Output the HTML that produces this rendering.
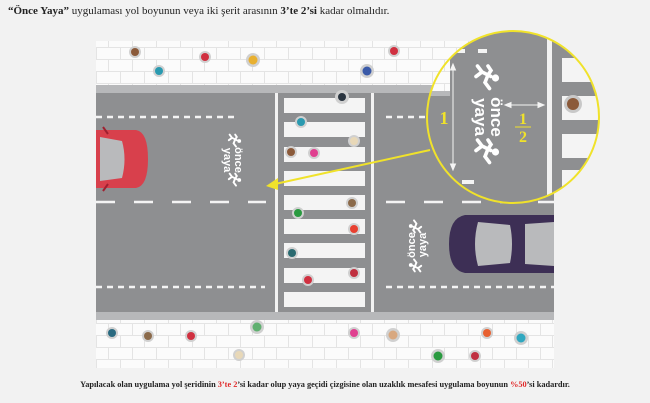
<!DOCTYPE html>
<html><head><meta charset="utf-8"><style>
html,body{margin:0;padding:0;background:#f2f2f2;}
body{width:650px;height:403px;overflow:hidden;position:relative;font-family:"Liberation Serif",serif;}
.t{position:absolute;left:8px;top:5px;font-size:11px;color:#222;white-space:nowrap;}
.b{position:absolute;left:0;width:650px;top:380px;text-align:center;font-size:8.3px;font-weight:bold;color:#222;white-space:nowrap;}
.r{color:#e02a2a;}
svg{position:absolute;left:0;top:0;}
</style></head><body>
<div class="t"><b>“Önce Yaya”</b> uygulaması yol boyunun veya iki şerit arasının <b>3’te 2’si</b> kadar olmalıdır.</div>
<svg width="650" height="403" viewBox="0 0 650 403" xmlns="http://www.w3.org/2000/svg">
<defs>
<pattern id="brick" width="24" height="24" patternUnits="userSpaceOnUse">
<rect width="24" height="24" fill="#fbfbfb"/>
<path d="M0 11.5H24M0 23.5H24M0.5 0V12M12.5 12V24" stroke="#e4e4e4" stroke-width="1" fill="none"/>
</pattern>
<clipPath id="cc"><circle cx="513" cy="117" r="86"/></clipPath>
<g id="ped">
<circle cx="0" cy="-9" r="2.4" fill="#fff"/>
<path d="M-1,-6 L-4,0 L-8,3 M-4,0 L-1,4 M-2,-4 L3,-2 L7,-5 M-2,-4 L-5,-6 L-8,-4" stroke="#fff" stroke-width="2.4" fill="none" stroke-linecap="round"/>
</g>
</defs>
<rect x="96" y="41" width="458" height="44" fill="url(#brick)"/>
<rect x="96" y="320" width="458" height="48" fill="url(#brick)"/>
<rect x="96" y="85" width="458" height="8" fill="#b7b8ba"/>
<rect x="96" y="312" width="458" height="8" fill="#b7b8ba"/>
<rect x="96" y="93" width="458" height="219" fill="#8e8f91"/>
<rect x="275" y="93" width="3" height="219" fill="#f2f2f2"/>
<rect x="371" y="93" width="3" height="219" fill="#f2f2f2"/>
<g fill="#f4f4f4">
<rect x="284" y="98" width="81" height="15"/><rect x="284" y="122" width="81" height="15"/>
<rect x="284" y="147" width="81" height="15"/><rect x="284" y="171" width="81" height="15"/>
<rect x="284" y="195" width="81" height="15"/><rect x="284" y="219" width="81" height="15"/>
<rect x="284" y="243" width="81" height="15"/><rect x="284" y="268" width="81" height="15"/>
<rect x="284" y="292" width="81" height="15"/>
</g>
<g stroke="#f4f4f4" stroke-width="2.5">
<line x1="96" y1="117" x2="236" y2="117" stroke-dasharray="6 5"/>
<line x1="96" y1="287" x2="265" y2="287" stroke-dasharray="6 5"/>
<line x1="96" y1="202" x2="266" y2="202" stroke-dasharray="19 19"/>
<line x1="386" y1="117" x2="430" y2="117" stroke-dasharray="6 5"/>
<line x1="386" y1="287" x2="554" y2="287" stroke-dasharray="6 5"/>
<line x1="386" y1="202" x2="554" y2="202" stroke-dasharray="19 19"/>
</g>
<path d="M96 130 L136 130 Q148 132 148 159 Q148 186 136 188 L96 188Z" fill="#d8404c"/>
<path d="M100 137 L122 141 Q127 159 122 178 L100 181Z" fill="#b9babc"/>
<path d="M103 127 L108 134 M103 191 L108 184" stroke="#a02030" stroke-width="2"/>
<path d="M554 215 L465 215 Q449 218 449 244 Q449 270 465 273 L554 273Z" fill="#3d2f55"/>
<path d="M478 222 L510 225 Q514 244 510 263 L478 266 Q472 244 478 222Z" fill="#b9babc"/>
<path d="M525 224 L554 222 L554 266 L525 264Z" fill="#b9babc"/>
<g transform="translate(232,160) rotate(90)" font-family="Liberation Sans,sans-serif" font-weight="bold" fill="#fff">
<text x="0" y="-3" font-size="11" text-anchor="middle">önce</text>
<text x="0" y="8" font-size="11" text-anchor="middle">yaya</text>
</g>
<use href="#ped" transform="translate(232,141) rotate(90) scale(0.8)"/>
<use href="#ped" transform="translate(232,180) rotate(90) scale(0.8)"/>
<g transform="translate(418,245) rotate(-90)" font-family="Liberation Sans,sans-serif" font-weight="bold" fill="#fff">
<text x="0" y="-3" font-size="11" text-anchor="middle">önce</text>
<text x="0" y="8" font-size="11" text-anchor="middle">yaya</text>
</g>
<use href="#ped" transform="translate(418,226) rotate(-90) scale(0.8)"/>
<use href="#ped" transform="translate(418,265) rotate(-90) scale(0.8)"/>
<g>
<g fill="#d0d0d0">
<circle cx="135" cy="52" r="6"/><circle cx="159" cy="71" r="6"/><circle cx="205" cy="57" r="6"/><circle cx="253" cy="60" r="7"/><circle cx="367" cy="71" r="7"/><circle cx="394" cy="51" r="6"/><circle cx="342" cy="97" r="7"/>
<circle cx="301" cy="122" r="6"/><circle cx="354" cy="141" r="6"/><circle cx="291" cy="152" r="6"/><circle cx="314" cy="153" r="6"/><circle cx="298" cy="213" r="6"/><circle cx="352" cy="203" r="6"/><circle cx="354" cy="229" r="6"/><circle cx="292" cy="253" r="6"/><circle cx="308" cy="280" r="6"/><circle cx="354" cy="273" r="6"/>
<circle cx="112" cy="333" r="6"/><circle cx="148" cy="336" r="6"/><circle cx="191" cy="336" r="6"/><circle cx="257" cy="327" r="7"/><circle cx="239" cy="355" r="6"/><circle cx="354" cy="333" r="6"/><circle cx="393" cy="335" r="7"/><circle cx="438" cy="356" r="7"/><circle cx="475" cy="356" r="6"/><circle cx="487" cy="333" r="6"/><circle cx="521" cy="338" r="7"/>
</g>
<circle cx="135" cy="52" r="4" fill="#8b5a3a"/><circle cx="159" cy="71" r="4" fill="#2a9ab0"/><circle cx="205" cy="57" r="4" fill="#d03040"/><circle cx="253" cy="60" r="4.5" fill="#e8b030"/><circle cx="367" cy="71" r="4.5" fill="#3a5aa8"/><circle cx="394" cy="51" r="4" fill="#d03040"/><circle cx="342" cy="97" r="4" fill="#2a3540"/>
<circle cx="301" cy="122" r="4" fill="#2a9ab0"/><circle cx="354" cy="141" r="4" fill="#e8d8b8"/><circle cx="291" cy="152" r="4" fill="#8b5a3a"/><circle cx="314" cy="153" r="4" fill="#e04090"/><circle cx="298" cy="213" r="4" fill="#2a9a40"/><circle cx="352" cy="203" r="4" fill="#8b6a4a"/><circle cx="354" cy="229" r="4" fill="#e84030"/><circle cx="292" cy="253" r="4" fill="#2a6a70"/><circle cx="308" cy="280" r="4" fill="#d03040"/><circle cx="354" cy="273" r="4" fill="#c03040"/>
<circle cx="112" cy="333" r="4" fill="#2a6a80"/><circle cx="148" cy="336" r="4" fill="#8b6a4a"/><circle cx="191" cy="336" r="4" fill="#d03040"/><circle cx="257" cy="327" r="4.5" fill="#60b070"/><circle cx="239" cy="355" r="4" fill="#e8d8b8"/><circle cx="354" cy="333" r="4" fill="#e04090"/><circle cx="393" cy="335" r="4.5" fill="#d8a880"/><circle cx="438" cy="356" r="4.5" fill="#2a9a40"/><circle cx="475" cy="356" r="4" fill="#c03040"/><circle cx="487" cy="333" r="4" fill="#e86030"/><circle cx="521" cy="338" r="4.5" fill="#30a8c0"/>
</g>
<line x1="430" y1="150" x2="275" y2="184" stroke="#f0e22a" stroke-width="2"/>
<path d="M266 186 L278 178 L278 190Z" fill="#f0e22a"/>
<g clip-path="url(#cc)">
<rect x="420" y="25" width="190" height="190" fill="#8e8f91"/>
<rect x="420" y="25" width="30" height="66" fill="url(#brick)"/>
<rect x="420" y="91" width="30" height="5" fill="#b7b8ba"/>
<rect x="547" y="25" width="5" height="190" fill="#f2f2f2"/>
<rect x="562" y="58" width="40" height="24" fill="#f4f4f4"/>
<rect x="562" y="96" width="40" height="24" fill="#f4f4f4"/>
<rect x="562" y="134" width="40" height="24" fill="#f4f4f4"/>
<rect x="562" y="170" width="40" height="24" fill="#f4f4f4"/>
<rect x="457" y="49" width="8" height="4" fill="#f4f4f4"/>
<rect x="478" y="49" width="9" height="4" fill="#f4f4f4"/>
<rect x="462" y="180" width="12" height="4" fill="#f4f4f4"/>
<circle cx="573" cy="104" r="9" fill="#c8c8c8"/><circle cx="573" cy="104" r="6" fill="#8b5a3a"/>
<circle cx="428" cy="62" r="6" fill="#d0d0d0"/><circle cx="428" cy="62" r="4" fill="#8b5a3a"/>
</g>
<circle cx="513" cy="117" r="86" fill="none" stroke="#f0e22a" stroke-width="2"/>
<g stroke="#f4f4f4" stroke-width="1" fill="#f4f4f4">
<line x1="453" y1="68" x2="453" y2="166"/>
<path d="M453 64 L450.5 70 L455.5 70Z M453 170 L450.5 164 L455.5 164Z"/>
<line x1="507" y1="105" x2="541" y2="105"/>
<path d="M505 105 L511 102.5 L511 107.5Z M544 105 L538 102.5 L538 107.5Z"/>
</g>
<g transform="translate(486,117) rotate(90)" font-family="Liberation Sans,sans-serif" font-weight="bold" fill="#fff">
<text x="0" y="-5" font-size="17" text-anchor="middle">önce</text>
<text x="0" y="11" font-size="17" text-anchor="middle">yaya</text>
</g>
<use href="#ped" transform="translate(482,78) rotate(90) scale(1.5)"/>
<use href="#ped" transform="translate(482,152) rotate(90) scale(1.5)"/>
<g font-family="Liberation Serif,serif" font-weight="bold" fill="#f0e22a" text-anchor="middle">
<text x="444" y="124" font-size="18">1</text>
<text x="523" y="124" font-size="16">1</text>
<line x1="515" y1="127" x2="531" y2="127" stroke="#f0e22a" stroke-width="1"/>
<text x="523" y="142" font-size="16">2</text>
</g>
</svg>
<div class="b">Yapılacak olan uygulama yol şeridinin <span class="r">3’te 2</span>’si kadar olup yaya geçidi çizgisine olan uzaklık mesafesi uygulama boyunun <span class="r">%50</span>’si kadardır.</div>
</body></html>
